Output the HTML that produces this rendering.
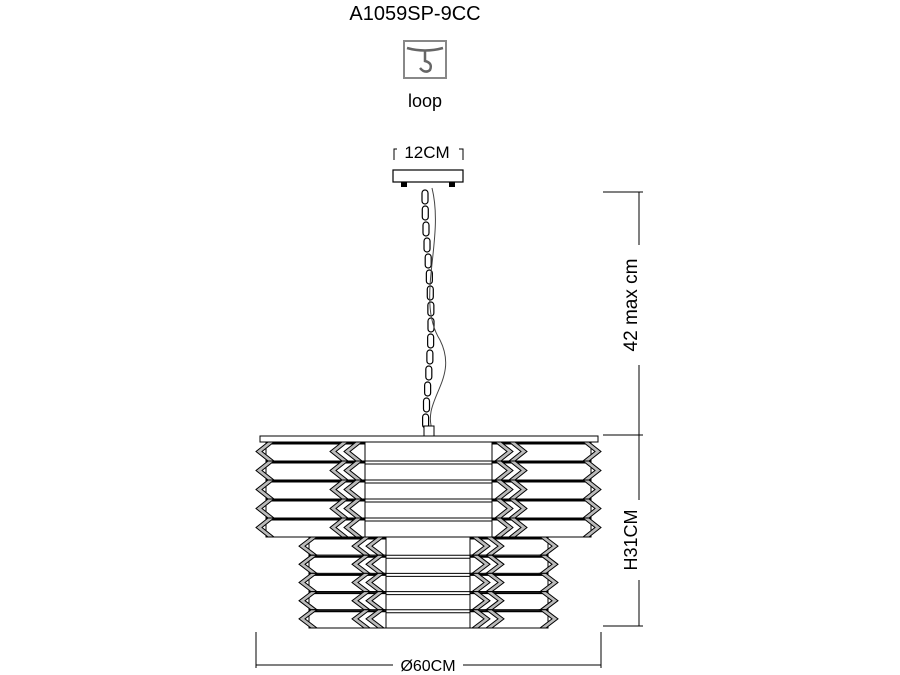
<!DOCTYPE html>
<html><head><meta charset="utf-8"><style>
html,body{margin:0;padding:0;background:#fff}
svg{display:block}
text{font-family:"Liberation Sans",Arial,sans-serif;fill:#000}
</style></head><body>
<svg id="s" width="900" height="675" viewBox="0 0 900 675" xmlns="http://www.w3.org/2000/svg">
<rect width="900" height="675" fill="#fff"/>
<text x="415" y="20" font-size="20" text-anchor="middle">A1059SP-9CC</text>
<rect x="404" y="41" width="42" height="37" fill="#fff" stroke="#888" stroke-width="2"/>
<path d="M407 48 Q425 53 443 48 M425 51 L425 61 Q433 63 430 70 Q425 74 420 68" fill="none" stroke="#666" stroke-width="2.5"/>
<text x="425" y="107" font-size="18" text-anchor="middle">loop</text>
<path d="M394 160 V149 H463 V160" fill="none" stroke="#000" stroke-width="1"/>
<rect x="397" y="142" width="62" height="16" fill="#fff"/>
<text x="427" y="158" font-size="17" text-anchor="middle">12CM</text>
<rect x="393" y="170" width="70" height="12" fill="#fff" stroke="#000" stroke-width="1.2"/>
<rect x="401" y="182" width="6" height="5" fill="#000"/><rect x="449" y="182" width="6" height="5" fill="#000"/>
<g id="chain" fill="none" stroke="#000" stroke-width="1.2"></g>
<path d="M432 188 C445 240 415 300 440 340 C460 380 420 400 433 432" fill="none" stroke="#444" stroke-width="1"/>
<g id="lamp" fill="#fff" stroke="#000" stroke-width="1"></g>
<g stroke="#000" stroke-width="1" fill="none">
<line x1="639" y1="192" x2="639" y2="626"/>
<line x1="603" y1="192" x2="643" y2="192"/>
<line x1="603" y1="435" x2="643" y2="435"/>
<line x1="603" y1="626" x2="643" y2="626"/>
<line x1="256" y1="632" x2="256" y2="668"/>
<line x1="601" y1="632" x2="601" y2="668"/>
<line x1="256" y1="665" x2="601" y2="665"/>
</g>
<rect x="393" y="656" width="70" height="16" fill="#fff"/>
<text x="428" y="671" font-size="16" text-anchor="middle">Ø60CM</text>
<rect x="618" y="245" width="22" height="120" fill="#fff"/>
<text transform="translate(637,305) rotate(-90)" font-size="19" text-anchor="middle">42 max cm</text>
<rect x="618" y="500" width="22" height="80" fill="#fff"/>
<text transform="translate(637,540) rotate(-90)" font-size="18" text-anchor="middle">H31CM</text>
</svg>
<script>
var NS="http://www.w3.org/2000/svg";
function el(p,t,a){var e=document.createElementNS(NS,t);for(var k in a)e.setAttribute(k,a[k]);p.appendChild(e);return e;}
var ch=document.getElementById('chain');
for(var y=190;y<430;y+=16){var x=428+Math.sin(y/40)*3;el(ch,'rect',{x:x-3,y:y,width:6,height:14,rx:3});}
var g=document.getElementById('lamp');
el(g,'rect',{x:424,y:426,width:10,height:10});
el(g,'rect',{x:260,y:436,width:338,height:6});
function chevL(x0,yt,yb,d){var ym=(yt+yb)/2;
 el(g,'polygon',{points:(x0+d)+','+yt+' '+x0+','+ym+' '+(x0+d)+','+yb+' '+(x0+d+6)+','+yb+' '+(x0+6)+','+ym+' '+(x0+d+6)+','+yt,fill:'#bbb'});}
function chevR(x0,yt,yb,d){var ym=(yt+yb)/2;
 el(g,'polygon',{points:(x0-d)+','+yt+' '+x0+','+ym+' '+(x0-d)+','+yb+' '+(x0-d-6)+','+yb+' '+(x0-6)+','+ym+' '+(x0-d-6)+','+yt,fill:'#bbb'});}
function tier(y0,h,n,L,R,il,ir,cl,cr){
 for(var i=0;i<n;i++){var yt=y0+i*h,yb=yt+h;
  el(g,'rect',{x:L+10,y:yt,width:R-L-20,height:h});
  el(g,'line',{x1:L+10,y1:yt+1.5,x2:R-10,y2:yt+1.5,'stroke-width':2});
  chevL(L,yt,yb,12);chevR(R,yt,yb,12);
  chevL(il,yt,yb,12);chevL(il+14,yt,yb,12);
  chevR(ir,yt,yb,12);chevR(ir-14,yt,yb,12);
 }
 el(g,'rect',{x:cl,y:y0,width:cr-cl,height:n*h});
 for(var i=1;i<n;i++){el(g,'line',{x1:cl,y1:y0+i*h,x2:cr,y2:y0+i*h});el(g,'line',{x1:cl,y1:y0+i*h+3,x2:cr,y2:y0+i*h+3});}
}
tier(442,19,5,256,601,330,527,365,492);
tier(537,18.2,5,299,558,352,504,386,470);
</script>
</body></html>
